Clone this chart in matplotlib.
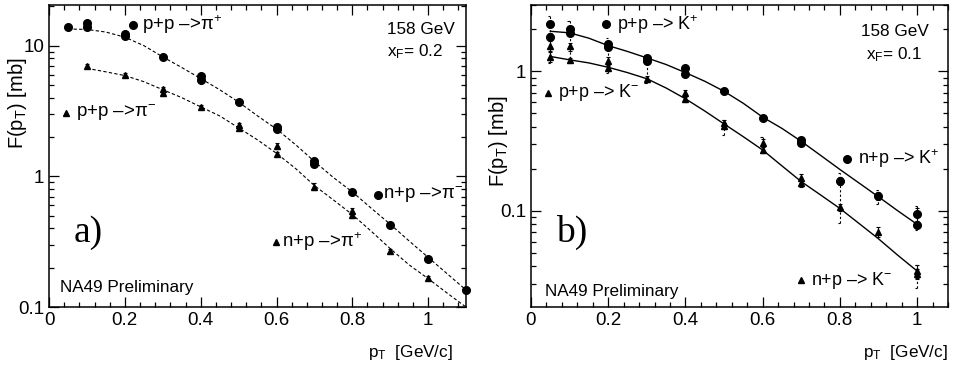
import numpy as np
import matplotlib
matplotlib.use("Agg")
from matplotlib import pyplot as plt
from matplotlib.ticker import MultipleLocator, LogLocator, NullFormatter

plt.rcParams['font.family'] = ['Liberation Sans', 'DejaVu Sans']
plt.rcParams['mathtext.fontset'] = 'custom'
plt.rcParams['mathtext.rm'] = 'Liberation Sans'
plt.rcParams['mathtext.it'] = 'Liberation Sans:italic'
plt.rcParams['mathtext.sf'] = 'Liberation Sans'

# ---- panel a: pions, xF = 0.2 ----
pi_circ_x = [0.05, 0.1, 0.1, 0.2, 0.2, 0.3, 0.4, 0.4, 0.5, 0.6, 0.6, 0.7, 0.7, 0.8, 0.9, 1.0, 1.1]
pi_circ_y = [13.9, 14.9, 13.9, 12.3, 11.9, 8.2, 5.83, 5.5, 3.69, 2.4, 2.31, 1.32, 1.24, 0.764, 0.428, 0.235, 0.136]
pi_circ_e = [0.3, 0.5, 0.4, 0.3, 0.3, 0.2, 0.15, 0.15, 0.1, 0.07, 0.07, 0.05, 0.05, 0.04, 0.015, 0.008, 0.005]
pi_tri_x = [0.1, 0.2, 0.3, 0.3, 0.4, 0.5, 0.5, 0.6, 0.6, 0.7, 0.8, 0.8, 0.9, 1.0]
pi_tri_y = [6.98, 5.93, 4.63, 4.32, 3.41, 2.47, 2.33, 1.71, 1.48, 0.833, 0.546, 0.506, 0.27, 0.166]
pi_tri_e = [0.25, 0.2, 0.2, 0.2, 0.1, 0.1, 0.08, 0.08, 0.06, 0.05, 0.03, 0.03, 0.008, 0.006]
pi_fit_x = [0.05, 0.1, 0.15, 0.2, 0.25, 0.3, 0.35, 0.4, 0.45, 0.5, 0.55, 0.6, 0.65, 0.7,
            0.75, 0.8, 0.85, 0.9, 0.95, 1.0, 1.05, 1.1]
pi_fit_hi = [13.4, 13.3, 12.7, 11.6, 10.0, 8.2, 6.8, 5.6, 4.6, 3.7, 2.9, 2.3, 1.75, 1.3,
             0.98, 0.76, 0.57, 0.43, 0.32, 0.24, 0.18, 0.135]
pi_fit_lo_x = [0.1, 0.15, 0.2, 0.25, 0.3, 0.35, 0.4, 0.45, 0.5, 0.55, 0.6, 0.65, 0.7,
               0.75, 0.8, 0.85, 0.9, 0.95, 1.0, 1.05, 1.1]
pi_fit_lo = [6.7, 6.3, 5.9, 5.3, 4.6, 4.0, 3.4, 2.9, 2.35, 1.9, 1.5, 1.15, 0.85,
             0.66, 0.51, 0.38, 0.28, 0.21, 0.165, 0.128, 0.1]

# ---- panel b: kaons, xF = 0.1 ----
k_circ_x = [0.05, 0.05, 0.1, 0.1, 0.2, 0.2, 0.3, 0.3, 0.4, 0.4, 0.5, 0.6, 0.7, 0.7, 0.8, 0.9, 1.0, 1.0]
k_circ_y = [2.17, 1.77, 2.02, 1.89, 1.57, 1.50, 1.24, 1.19, 1.06, 0.96, 0.718, 0.464, 0.323, 0.308, 0.164, 0.128, 0.095, 0.079]
k_circ_e = [0.1, 0.1, 0.1, 0.08, 0.07, 0.07, 0.05, 0.05, 0.03, 0.03, 0.02, 0.015, 0.015, 0.015, 0.012, 0.008, 0.01, 0.004]
k_tri_x = [0.05, 0.05, 0.1, 0.1, 0.2, 0.2, 0.3, 0.4, 0.4, 0.5, 0.5, 0.6, 0.6, 0.7, 0.7, 0.8, 0.9, 1.0, 1.0]
k_tri_y = [1.52, 1.27, 1.51, 1.21, 1.18, 1.06, 0.886, 0.70, 0.636, 0.425, 0.407, 0.305, 0.273, 0.171, 0.159, 0.106, 0.0706, 0.0368, 0.0355]
k_tri_e = [0.12, 0.1, 0.1, 0.04, 0.08, 0.06, 0.04, 0.04, 0.03, 0.02, 0.02, 0.02, 0.012, 0.012, 0.01, 0.006, 0.006, 0.004, 0.003]
k_fit_x = [0.05, 0.1, 0.15, 0.2, 0.25, 0.3, 0.35, 0.4, 0.45, 0.5, 0.55, 0.6, 0.65, 0.7,
           0.75, 0.8, 0.85, 0.9, 0.95, 1.0]
k_fit_hi = [1.94, 1.89, 1.73, 1.53, 1.39, 1.25, 1.12, 0.98, 0.85, 0.72, 0.59, 0.47, 0.39, 0.315,
            0.25, 0.198, 0.158, 0.126, 0.10, 0.080]
k_fit_lo = [1.28, 1.21, 1.15, 1.07, 0.98, 0.886, 0.76, 0.636, 0.52, 0.42, 0.34, 0.273, 0.21, 0.162,
            0.13, 0.104, 0.081, 0.063, 0.048, 0.037]
# systematic brackets (dashed)
k_sys_x = [0.05, 0.1, 0.2, 0.3, 0.5, 0.6, 0.8, 0.9, 1.0, 1.0]
k_sys_lo = [1.15, 1.15, 0.97, 0.83, 0.35, 0.26, 0.082, 0.111, 0.073, 0.028]
k_sys_hi = [2.49, 2.29, 1.74, 1.30, 0.45, 0.34, 0.187, 0.14, 0.108, 0.041]

fig = plt.figure(figsize=(9.56, 3.74), dpi=100)
ax1 = fig.add_axes([0.0513, 0.179, 0.4362, 0.808])
ax2 = fig.add_axes([0.5554, 0.179, 0.4362, 0.808])

ebkw = dict(ls='none', color='black', ecolor='black', elinewidth=0.8, capsize=1.5,
            capthick=0.8, clip_on=False)

ax1.plot(pi_fit_x, pi_fit_hi, color='black', lw=0.8, ls=(0, (3, 2)))
ax1.plot(pi_fit_lo_x, pi_fit_lo, color='black', lw=0.8, ls=(0, (3, 2)))
ax1.errorbar(pi_circ_x, pi_circ_y, yerr=pi_circ_e, marker='o', ms=5.5, **ebkw)
ax1.errorbar(pi_tri_x, pi_tri_y, yerr=pi_tri_e, marker='^', ms=4, **ebkw)

ax2.plot(k_fit_x, k_fit_hi, color='black', lw=1.0)
ax2.plot(k_fit_x, k_fit_lo, color='black', lw=1.0)
ax2.vlines(k_sys_x, k_sys_lo, k_sys_hi, color='black', lw=0.8, linestyles=(0, (2, 2)))
ax2.hlines(k_sys_lo, np.array(k_sys_x) - 0.006, k_sys_x, color='black', lw=0.8)
ax2.hlines(k_sys_hi, np.array(k_sys_x) - 0.006, k_sys_x, color='black', lw=0.8)
ax2.errorbar(k_circ_x, k_circ_y, yerr=k_circ_e, marker='o', ms=5.5, **ebkw)
ax2.errorbar(k_tri_x, k_tri_y, yerr=k_tri_e, marker='^', ms=4, **ebkw)

for ax in (ax1, ax2):
    ax.set_yscale('log')
    ax.tick_params(which='both', direction='in', top=True, right=True, labelsize=13.5, width=0.9)
    ax.tick_params(which='major', length=7)
    ax.tick_params(which='minor', length=3.5)
    ax.xaxis.set_major_locator(MultipleLocator(0.2))
    ax.xaxis.set_minor_locator(MultipleLocator(0.04))
    ax.xaxis.set_major_formatter(lambda v, p: '%g' % round(v, 2))
    ax.yaxis.set_major_formatter(lambda v, p: '%g' % v)
    ax.yaxis.set_minor_locator(LogLocator(base=10, subs=np.arange(2, 10)))
    ax.yaxis.set_minor_formatter(NullFormatter())
    for s in ax.spines.values():
        s.set_linewidth(1.1)

ax1.set_xlim(0, 1.1)
ax1.set_ylim(0.1, 20.5)
ax2.set_xlim(0, 1.08)
ax2.set_ylim(0.0204, 3.0)

fs = 13.4
fsk = 12.9
fs2 = 12.3
# panel a annotations
ax1.plot([0.221], [14.4], 'ko', ms=5.5)
ax1.text(0.245, 14.4, 'p+p \u2013>\u03c0$^{+}$', fontsize=fs, va='center')
ax1.plot([0.045], [3.07], 'k^', ms=4)
ax1.text(0.071, 3.07, 'p+p \u2013>\u03c0$^{-}$', fontsize=fs, va='center')
ax1.plot([0.867], [0.72], 'ko', ms=5.5)
ax1.text(0.88, 0.72, 'n+p \u2013>\u03c0$^{-}$', fontsize=fs, va='center')
ax1.plot([0.599], [0.316], 'k^', ms=4)
ax1.text(0.614, 0.316, 'n+p \u2013>\u03c0$^{+}$', fontsize=fs, va='center')
ax1.text(0.81, 0.92, '158 GeV', transform=ax1.transAxes, fontsize=fs2, va='center')
ax1.text(0.81, 0.844, 'x$_{\\mathrm{F}}$= 0.2', transform=ax1.transAxes, fontsize=fs2, va='center')
ax1.text(0.058, 0.245, 'a)', transform=ax1.transAxes, fontsize=27, va='center',
         family=['Liberation Serif', 'DejaVu Serif'])
ax1.text(0.026, 0.066, 'NA49 Preliminary', transform=ax1.transAxes, fontsize=fs2, va='center')

# panel b annotations
ax2.plot([0.195], [2.17], 'ko', ms=5.5)
ax2.text(0.224, 2.17, 'p+p \u2013> K$^{+}$', fontsize=fsk, va='center')
ax2.plot([0.044], [0.70], 'k^', ms=4)
ax2.text(0.07, 0.70, 'p+p \u2013> K$^{-}$', fontsize=fsk, va='center')
ax2.plot([0.819], [0.235], 'ko', ms=5.5)
ax2.text(0.847, 0.235, 'n+p \u2013> K$^{+}$', fontsize=fsk, va='center')
ax2.plot([0.70], [0.0317], 'k^', ms=4)
ax2.text(0.725, 0.0317, 'n+p \u2013> K$^{-}$', fontsize=fsk, va='center')
ax2.text(0.792, 0.912, '158 GeV', transform=ax2.transAxes, fontsize=fs2, va='center')
ax2.text(0.803, 0.834, 'x$_{\\mathrm{F}}$= 0.1', transform=ax2.transAxes, fontsize=fs2, va='center')
ax2.text(0.06, 0.248, 'b)', transform=ax2.transAxes, fontsize=27, va='center',
         family=['Liberation Serif', 'DejaVu Serif'])
ax2.text(0.034, 0.05, 'NA49 Preliminary', transform=ax2.transAxes, fontsize=fs2, va='center')

# axis titles
fig.text(18 / 956, (374 - 57) / 374, 'F(p$_{\\mathrm{T}}$) [mb]', rotation=90, ha='center', va='top', fontsize=14.5)
fig.text(498 / 956, (374 - 95) / 374, 'F(p$_{\\mathrm{T}}$) [mb]', rotation=90, ha='center', va='top', fontsize=14.5)
fig.text(453 / 956, 21 / 374, 'p$_{\\mathrm{T}}$  [GeV/c]', ha='right', va='center', fontsize=fs2)
fig.text(948 / 956, 21 / 374, 'p$_{\\mathrm{T}}$  [GeV/c]', ha='right', va='center', fontsize=fs2)

fig.savefig('out.png', dpi=100)
